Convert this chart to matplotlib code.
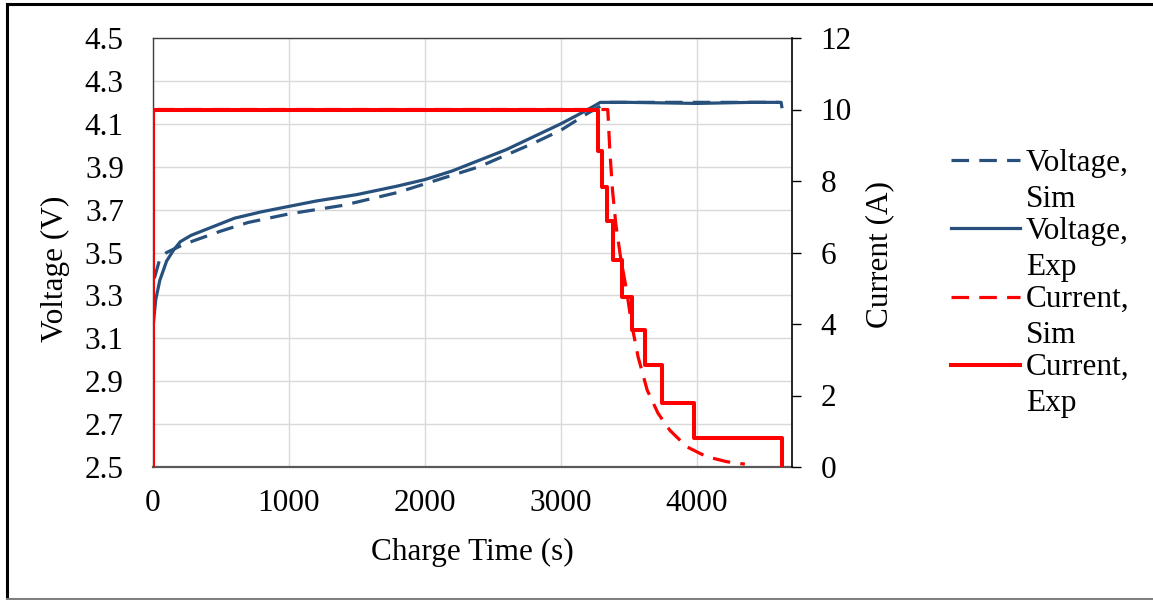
import numpy as np
import matplotlib
matplotlib.use("Agg")
import matplotlib.pyplot as plt
from matplotlib.legend_handler import HandlerLine2D
from matplotlib.lines import Line2D

# ---------------- data ----------------
v_exp_t = [0, 20, 50, 100, 150, 200, 280, 400, 600, 800, 1000, 1200, 1500, 1800,
           2000, 2200, 2400, 2600, 2800, 3000, 3150, 3250, 3290, 3500, 4000, 4400, 4620, 4625]
v_exp_v = [3.15, 3.28, 3.37, 3.46, 3.51, 3.55, 3.58, 3.61, 3.66, 3.69, 3.715, 3.74, 3.77, 3.81,
           3.84, 3.88, 3.93, 3.98, 4.04, 4.10, 4.15, 4.185, 4.20, 4.20, 4.195, 4.20, 4.20, 4.18]

v_sim_t = [10, 50, 100, 200, 300, 500, 700, 1000, 1400, 1800, 2000, 2400, 2800, 3000,
           3200, 3300, 3340, 4000, 4600]
v_sim_v = [3.38, 3.47, 3.50, 3.53, 3.555, 3.60, 3.64, 3.68, 3.72, 3.78, 3.82, 3.90, 4.01, 4.07,
           4.15, 4.185, 4.20, 4.20, 4.20]

i_exp_t = [0, 0, 3272, 3299, 3336, 3385, 3446, 3520, 3618, 3745, 3980, 4623]
i_exp_i = [0, 10, 8.85, 7.82, 6.89, 5.78, 4.75, 3.82, 2.85, 1.78, 0.80, 0]

i_sim_t = [0, 0, 3345, 3360, 3380, 3404, 3439, 3483, 3520, 3568, 3635, 3715, 3801,
           3924, 4071, 4218, 4353]
i_sim_i = [0, 10, 10, 8.85, 7.73, 6.80, 5.87, 4.94, 4.01, 3.08, 2.15, 1.50, 1.03,
           0.57, 0.29, 0.15, 0.08]

x_ticks = [0, 1000, 2000, 3000, 4000]
v_ticks = [2.5, 2.7, 2.9, 3.1, 3.3, 3.5, 3.7, 3.9, 4.1, 4.3, 4.5]
i_ticks = [0, 2, 4, 6, 8, 10, 12]

# ---------------- style ----------------
plt.rcParams['font.family'] = ['Liberation Serif', 'DejaVu Serif']
FS = 22.5
BLUE = '#27507c'
RED = '#ff0000'
LW = 2.3
DASH = (0, (5.5, 3.2))

fig = plt.figure(figsize=(11.53, 6.0), dpi=100)
W, H = 1153, 600
ax = fig.add_axes([153 / W, (H - 467) / H, 639 / W, 429 / H])
ax2 = ax.twinx()

l1, = ax.plot(v_sim_t, v_sim_v, color=BLUE, lw=LW, ls=DASH, label='Voltage,\nSim')
l2, = ax.plot(v_exp_t, v_exp_v, color=BLUE, lw=LW, label='Voltage,\nExp')
l3, = ax2.plot(i_sim_t, i_sim_i, color=RED, lw=LW, ls=DASH, label='Current,\nSim')
l4, = ax2.plot(i_exp_t, i_exp_i, color=RED, lw=LW + 0.6, drawstyle='steps-post', label='Current,\nExp')

ax.set_xlim(0, 4700)
ax.set_ylim(2.5, 4.5)
ax2.set_ylim(0, 12)
ax.set_xticks(x_ticks)
ax.set_yticks(v_ticks)
ax.set_yticklabels([f'{v:.1f}' for v in v_ticks])
ax2.set_yticks(i_ticks)

ax.grid(True, color='#d9d9d9', lw=1.0)
ax.set_axisbelow(True)

ax.tick_params(axis='y', length=0, pad=21, labelsize=FS)
ax.tick_params(axis='x', length=0, pad=16, labelsize=FS)
ax2.tick_params(axis='y', length=6.5, width=1.0, pad=14, labelsize=FS, direction='out')

for s in ['left', 'top']:
    ax.spines[s].set_color('#404040')
    ax.spines[s].set_linewidth(1.0)
ax.spines['bottom'].set_color('#595959')
ax.spines['bottom'].set_linewidth(1.6)
ax.spines['right'].set_visible(False)
for s in ['left', 'top', 'bottom']:
    ax2.spines[s].set_visible(False)
ax2.spines['right'].set_color('black')
ax2.spines['right'].set_linewidth(1.2)

ax.set_xlabel('Charge Time (s)', fontsize=FS)
ax.xaxis.set_label_coords(0.5, -0.20)
ax.xaxis.label.set_va('center')
ax.set_ylabel('Voltage (V)', fontsize=FS, va='center')
ax.yaxis.set_label_coords(-0.153, 0.463)
ax2.set_ylabel('Current (A)', fontsize=FS, va='center')
ax2.yaxis.set_label_coords(1.1377, 0.496)

LSP = 1.3


class UpHandler(HandlerLine2D):
    def create_artists(self, legend, orig_handle, xdescent, ydescent, width, height,
                       fontsize, trans):
        arts = super().create_artists(legend, orig_handle, xdescent, ydescent, width,
                                      height, fontsize, trans)
        for a in arts:
            if isinstance(a, Line2D):
                a.set_ydata(np.asarray(a.get_ydata(), dtype=float) + fontsize * 1.03 * LSP * 0.5)
        return arts


leg = fig.legend(handles=[l1, l2, l3, l4], loc='upper left',
                 bbox_to_anchor=(951 / W, 1 - 149 / H), frameon=False, fontsize=FS,
                 handlelength=2.2, handletextpad=0.2, labelspacing=0.11,
                 borderaxespad=0, borderpad=0,
                 handler_map={Line2D: UpHandler()})
for t in leg.get_texts():
    t.set_linespacing(LSP)

# figure frame (partial border as in reference)
fig.add_artist(Line2D([7 / W, 7 / W], [0, 1 - 4 / H], transform=fig.transFigure, color='black', lw=2.2))
fig.add_artist(Line2D([7 / W, 1], [1 - 4 / H, 1 - 4 / H], transform=fig.transFigure, color='black', lw=2.2))
fig.add_artist(Line2D([7 / W, 1], [1 / H, 1 / H], transform=fig.transFigure, color='#808080', lw=1.5))

fig.savefig('out.png', dpi=100)
